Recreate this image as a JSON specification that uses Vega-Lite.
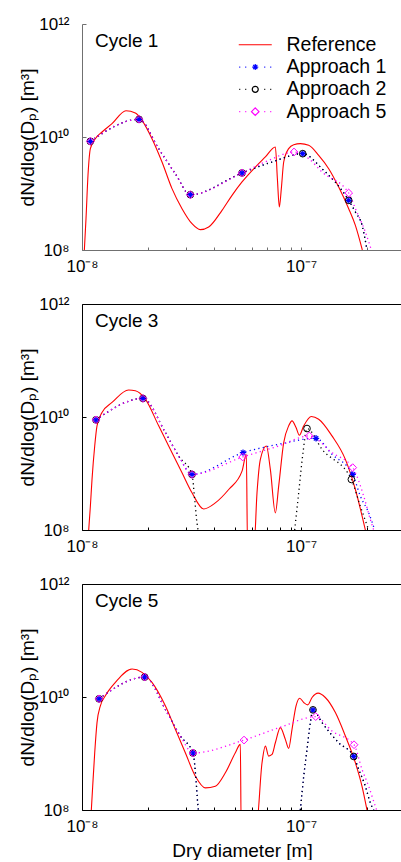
{
"$schema": "https://vega.github.io/schema/vega-lite/v6.json",
"background": "white",
"padding": {"left": 18, "top": 15, "right": 0, "bottom": 0},
"bounds": "flush",
"spacing": 54,
"config": {
  "font": "Liberation Sans",
  "view": {"stroke": null},
  "axis": {"labelFont": "Liberation Sans", "labelFontSize": 17, "labelColor": "black", "titleFont": "Liberation Sans", "titleFontSize": 19, "titleFontWeight": "normal", "titleColor": "black", "grid": false, "domainWidth": 1, "tickWidth": 1, "labelFlush": false, "labelOverlap": false},
  "legend": {"orient": "none", "legendX": 163.5, "legendY": 11, "labelFont": "Liberation Sans", "labelFontSize": 19.5, "labelColor": "black", "symbolSize": 100, "labelOffset": 21.5, "rowPadding": 1.3, "padding": 0, "symbolStrokeWidth": 1.2, "symbolOpacity": 1, "labelLimit": 300},
  "title": {"anchor": "start", "frame": "group", "offset": -36, "dx": 13, "fontSize": 19, "fontWeight": "normal", "font": "Liberation Sans", "color": "black", "baseline": "middle"}
},
"resolve": {"scale": {"color": "shared", "shape": "shared"}},
"datasets": {"d": [
{"c":1,"s":"Reference","g":"a","D":1.025e-8,"N":1e8,"m":0},
{"c":1,"s":"Reference","g":"a","D":1.043e-8,"N":3.59e8,"m":0},
{"c":1,"s":"Reference","g":"a","D":1.065e-8,"N":2.10e9,"m":0},
{"c":1,"s":"Reference","g":"a","D":1.092e-8,"N":6.22e9,"m":0},
{"c":1,"s":"Reference","g":"a","D":1.150e-8,"N":9.34e9,"m":0},
{"c":1,"s":"Reference","g":"a","D":1.234e-8,"N":1.226e10,"m":0},
{"c":1,"s":"Reference","g":"a","D":1.371e-8,"N":1.72e10,"m":0},
{"c":1,"s":"Reference","g":"a","D":1.588e-8,"N":2.92e10,"m":0},
{"c":1,"s":"Reference","g":"a","D":1.752e-8,"N":2.66e10,"m":0},
{"c":1,"s":"Reference","g":"a","D":1.879e-8,"N":1.97e10,"m":0},
{"c":1,"s":"Reference","g":"a","D":2.087e-8,"N":9.34e9,"m":0},
{"c":1,"s":"Reference","g":"a","D":2.319e-8,"N":3.61e9,"m":0},
{"c":1,"s":"Reference","g":"a","D":2.576e-8,"N":1.22e9,"m":0},
{"c":1,"s":"Reference","g":"a","D":2.862e-8,"N":5.39e8,"m":0},
{"c":1,"s":"Reference","g":"a","D":3.179e-8,"N":2.92e8,"m":0},
{"c":1,"s":"Reference","g":"a","D":3.47e-8,"N":2.29e8,"m":0},
{"c":1,"s":"Reference","g":"a","D":3.788e-8,"N":2.55e8,"m":0},
{"c":1,"s":"Reference","g":"a","D":4.358e-8,"N":5.04e8,"m":0},
{"c":1,"s":"Reference","g":"a","D":4.842e-8,"N":9.28e8,"m":0},
{"c":1,"s":"Reference","g":"a","D":5.378e-8,"N":1.60e9,"m":0},
{"c":1,"s":"Reference","g":"a","D":6.186e-8,"N":2.94e9,"m":0},
{"c":1,"s":"Reference","g":"a","D":6.874e-8,"N":4.43e9,"m":0},
{"c":1,"s":"Reference","g":"a","D":7.635e-8,"N":6.65e9,"m":0},
{"c":1,"s":"Reference","g":"a","D":7.80e-8,"N":1.83e9,"m":0},
{"c":1,"s":"Reference","g":"a","D":7.96e-8,"N":5.77e8,"m":0},
{"c":1,"s":"Reference","g":"a","D":8.13e-8,"N":1.22e9,"m":0},
{"c":1,"s":"Reference","g":"a","D":8.335e-8,"N":3.61e9,"m":0},
{"c":1,"s":"Reference","g":"a","D":8.783e-8,"N":6.22e9,"m":0},
{"c":1,"s":"Reference","g":"a","D":9.26e-8,"N":7.31e9,"m":0},
{"c":1,"s":"Reference","g":"a","D":9.93e-8,"N":7.62e9,"m":0},
{"c":1,"s":"Reference","g":"a","D":1.084e-7,"N":7.12e9,"m":0},
{"c":1,"s":"Reference","g":"a","D":1.204e-7,"N":4.74e9,"m":0},
{"c":1,"s":"Reference","g":"a","D":1.338e-7,"N":2.75e9,"m":0},
{"c":1,"s":"Reference","g":"a","D":1.486e-7,"N":1.30e9,"m":0},
{"c":1,"s":"Reference","g":"a","D":1.651e-7,"N":5.39e8,"m":0},
{"c":1,"s":"Reference","g":"a","D":1.771e-7,"N":2.73e8,"m":0},
{"c":1,"s":"Reference","g":"a","D":1.905e-7,"N":1e8,"m":0},

{"c":1,"s":"Approach 1","g":"a","D":1.092e-8,"N":8.38e9,"m":1},
{"c":1,"s":"Approach 1","g":"a","D":1.821e-8,"N":2.055e10,"m":1},
{"c":1,"s":"Approach 1","g":"a","D":2.239e-8,"N":6.22e9,"m":0},
{"c":1,"s":"Approach 1","g":"a","D":2.667e-8,"N":2.24e9,"m":0},
{"c":1,"s":"Approach 1","g":"a","D":3.124e-8,"N":9.53e8,"m":1},
{"c":1,"s":"Approach 1","g":"a","D":5.378e-8,"N":2.31e9,"m":1},
{"c":1,"s":"Approach 1","g":"a","D":7.372e-8,"N":3.61e9,"m":0},
{"c":1,"s":"Approach 1","g":"a","D":1.018e-7,"N":5.07e9,"m":1},
{"c":1,"s":"Approach 1","g":"a","D":1.247e-7,"N":2.75e9,"m":0},
{"c":1,"s":"Approach 1","g":"a","D":1.651e-7,"N":7.57e8,"m":1},
{"c":1,"s":"Approach 1","g":"a","D":1.771e-7,"N":4.71e8,"m":0},
{"c":1,"s":"Approach 1","g":"a","D":1.90e-7,"N":2.73e8,"m":0},
{"c":1,"s":"Approach 1","g":"a","D":2.001e-7,"N":1e8,"m":0},

{"c":1,"s":"Approach 2","g":"a","D":1.092e-8,"N":8.38e9,"m":1},
{"c":1,"s":"Approach 2","g":"a","D":1.821e-8,"N":2.055e10,"m":1},
{"c":1,"s":"Approach 2","g":"a","D":2.239e-8,"N":6.22e9,"m":0},
{"c":1,"s":"Approach 2","g":"a","D":2.667e-8,"N":2.24e9,"m":0},
{"c":1,"s":"Approach 2","g":"a","D":3.124e-8,"N":9.53e8,"m":1},
{"c":1,"s":"Approach 2","g":"a","D":5.378e-8,"N":2.31e9,"m":1},
{"c":1,"s":"Approach 2","g":"a","D":7.372e-8,"N":3.61e9,"m":0},
{"c":1,"s":"Approach 2","g":"a","D":1.018e-7,"N":5.07e9,"m":1},
{"c":1,"s":"Approach 2","g":"a","D":1.247e-7,"N":2.75e9,"m":0},
{"c":1,"s":"Approach 2","g":"a","D":1.651e-7,"N":7.57e8,"m":1},
{"c":1,"s":"Approach 2","g":"a","D":1.771e-7,"N":4.71e8,"m":0},
{"c":1,"s":"Approach 2","g":"a","D":1.90e-7,"N":2.73e8,"m":0},
{"c":1,"s":"Approach 2","g":"a","D":2.001e-7,"N":1e8,"m":0},

{"c":1,"s":"Approach 5","g":"a","D":1.092e-8,"N":8.38e9,"m":1},
{"c":1,"s":"Approach 5","g":"a","D":1.821e-8,"N":2.055e10,"m":1},
{"c":1,"s":"Approach 5","g":"a","D":2.239e-8,"N":6.22e9,"m":0},
{"c":1,"s":"Approach 5","g":"a","D":2.667e-8,"N":2.24e9,"m":0},
{"c":1,"s":"Approach 5","g":"a","D":3.124e-8,"N":9.53e8,"m":1},
{"c":1,"s":"Approach 5","g":"a","D":5.378e-8,"N":2.31e9,"m":1},
{"c":1,"s":"Approach 5","g":"a","D":7.12e-8,"N":3.86e9,"m":0},
{"c":1,"s":"Approach 5","g":"a","D":9.29e-8,"N":5.43e9,"m":1},
{"c":1,"s":"Approach 5","g":"a","D":1.084e-7,"N":4.14e9,"m":0},
{"c":1,"s":"Approach 5","g":"a","D":1.247e-7,"N":2.40e9,"m":0},
{"c":1,"s":"Approach 5","g":"a","D":1.651e-7,"N":1.02e9,"m":1},
{"c":1,"s":"Approach 5","g":"a","D":1.771e-7,"N":5.39e8,"m":0},
{"c":1,"s":"Approach 5","g":"a","D":1.967e-7,"N":2.08e8,"m":0},
{"c":1,"s":"Approach 5","g":"a","D":2.095e-7,"N":1e8,"m":0},

{"c":3,"s":"Reference","g":"a","D":1.073e-8,"N":1e8,"m":0},
{"c":3,"s":"Reference","g":"a","D":1.092e-8,"N":2.63e8,"m":0},
{"c":3,"s":"Reference","g":"a","D":1.111e-8,"N":7.85e8,"m":0},
{"c":3,"s":"Reference","g":"a","D":1.143e-8,"N":3.07e9,"m":0},
{"c":3,"s":"Reference","g":"a","D":1.171e-8,"N":6.97e9,"m":0},
{"c":3,"s":"Reference","g":"a","D":1.234e-8,"N":1.20e10,"m":0},
{"c":3,"s":"Reference","g":"a","D":1.371e-8,"N":1.81e10,"m":0},
{"c":3,"s":"Reference","g":"a","D":1.633e-8,"N":3.00e10,"m":0},
{"c":3,"s":"Reference","g":"a","D":1.752e-8,"N":2.92e10,"m":0},
{"c":3,"s":"Reference","g":"a","D":1.946e-8,"N":2.07e10,"m":0},
{"c":3,"s":"Reference","g":"a","D":2.239e-8,"N":6.97e9,"m":0},
{"c":3,"s":"Reference","g":"a","D":2.487e-8,"N":3.07e9,"m":0},
{"c":3,"s":"Reference","g":"a","D":2.862e-8,"N":1.03e9,"m":0},
{"c":3,"s":"Reference","g":"a","D":3.179e-8,"N":4.55e8,"m":0},
{"c":3,"s":"Reference","g":"a","D":3.594e-8,"N":2.36e8,"m":0},
{"c":3,"s":"Reference","g":"a","D":4.062e-8,"N":3.02e8,"m":0},
{"c":3,"s":"Reference","g":"a","D":4.675e-8,"N":5.21e8,"m":0},
{"c":3,"s":"Reference","g":"a","D":5.378e-8,"N":1.10e9,"m":0},
{"c":3,"s":"Reference","g":"a","D":5.628e-8,"N":2.18e9,"m":0},
{"c":3,"s":"Reference","g":"a","D":5.70e-8,"N":5e7,"m":0},
{"c":3,"s":"Reference","g":"a","D":6.10e-8,"N":5e7,"m":0},
{"c":3,"s":"Reference","g":"a","D":6.296e-8,"N":4.55e8,"m":0},
{"c":3,"s":"Reference","g":"a","D":6.521e-8,"N":1.78e9,"m":0},
{"c":3,"s":"Reference","g":"a","D":6.947e-8,"N":3.07e9,"m":0},
{"c":3,"s":"Reference","g":"a","D":7.244e-8,"N":1.18e9,"m":0},
{"c":3,"s":"Reference","g":"a","D":7.635e-8,"N":2.01e8,"m":0},
{"c":3,"s":"Reference","g":"a","D":7.907e-8,"N":5.97e8,"m":0},
{"c":3,"s":"Reference","g":"a","D":8.335e-8,"N":3.52e9,"m":0},
{"c":3,"s":"Reference","g":"a","D":8.783e-8,"N":6.97e9,"m":0},
{"c":3,"s":"Reference","g":"a","D":9.097e-8,"N":8.55e9,"m":0},
{"c":3,"s":"Reference","g":"a","D":9.49e-8,"N":6.51e9,"m":0},
{"c":3,"s":"Reference","g":"a","D":9.826e-8,"N":4.75e9,"m":0},
{"c":3,"s":"Reference","g":"a","D":1.029e-7,"N":6.97e9,"m":0},
{"c":3,"s":"Reference","g":"a","D":1.115e-7,"N":1.02e10,"m":0},
{"c":3,"s":"Reference","g":"a","D":1.204e-7,"N":9.15e9,"m":0},
{"c":3,"s":"Reference","g":"a","D":1.385e-7,"N":4.63e9,"m":0},
{"c":3,"s":"Reference","g":"a","D":1.594e-7,"N":1.78e9,"m":0},
{"c":3,"s":"Reference","g":"a","D":1.771e-7,"N":5.21e8,"m":0},
{"c":3,"s":"Reference","g":"a","D":1.967e-7,"N":1e8,"m":0},

{"c":3,"s":"Approach 1","g":"a","D":1.158e-8,"N":8.90e9,"m":1},
{"c":3,"s":"Approach 1","g":"a","D":1.898e-8,"N":2.13e10,"m":1},
{"c":3,"s":"Approach 1","g":"a","D":2.402e-8,"N":5.30e9,"m":0},
{"c":3,"s":"Approach 1","g":"a","D":2.763e-8,"N":2.04e9,"m":0},
{"c":3,"s":"Approach 1","g":"a","D":3.179e-8,"N":9.63e8,"m":1},
{"c":3,"s":"Approach 1","g":"a","D":5.434e-8,"N":2.34e9,"m":1},
{"c":3,"s":"Approach 1","g":"a","D":7.907e-8,"N":3.29e9,"m":0},
{"c":3,"s":"Approach 1","g":"a","D":1.171e-7,"N":4.20e9,"m":1},
{"c":3,"s":"Approach 1","g":"a","D":1.385e-7,"N":2.18e9,"m":0},
{"c":3,"s":"Approach 1","g":"a","D":1.722e-7,"N":9.63e8,"m":1},
{"c":3,"s":"Approach 1","g":"a","D":1.866e-7,"N":3.97e8,"m":0},
{"c":3,"s":"Approach 1","g":"a","D":2.037e-7,"N":2.01e8,"m":0},
{"c":3,"s":"Approach 1","g":"a","D":2.17e-7,"N":1e8,"m":0},

{"c":3,"s":"Approach 2","g":"a","D":1.158e-8,"N":8.90e9,"m":1},
{"c":3,"s":"Approach 2","g":"a","D":1.898e-8,"N":2.13e10,"m":1},
{"c":3,"s":"Approach 2","g":"a","D":2.402e-8,"N":5.30e9,"m":0},
{"c":3,"s":"Approach 2","g":"a","D":2.763e-8,"N":2.04e9,"m":0},
{"c":3,"s":"Approach 2","g":"a","D":3.179e-8,"N":9.63e8,"m":1},
{"c":3,"s":"Approach 2","g":"a","D":3.27e-8,"N":3.46e8,"m":0},
{"c":3,"s":"Approach 2","g":"a","D":3.35e-8,"N":1.33e8,"m":0},
{"c":3,"s":"Approach 2","g":"a","D":3.386e-8,"N":1e8,"m":0},
{"c":3,"s":"Approach 2","g":"b","D":9.357e-8,"N":1e8,"m":0},
{"c":3,"s":"Approach 2","g":"b","D":9.757e-8,"N":4.55e8,"m":0},
{"c":3,"s":"Approach 2","g":"b","D":1.021e-7,"N":2.34e9,"m":0},
{"c":3,"s":"Approach 2","g":"b","D":1.065e-7,"N":6.25e9,"m":1},
{"c":3,"s":"Approach 2","g":"b","D":1.247e-7,"N":2.68e9,"m":0},
{"c":3,"s":"Approach 2","g":"b","D":1.698e-7,"N":7.85e8,"m":1},
{"c":3,"s":"Approach 2","g":"b","D":1.866e-7,"N":2.63e8,"m":0},
{"c":3,"s":"Approach 2","g":"b","D":2.037e-7,"N":1e8,"m":0},

{"c":3,"s":"Approach 5","g":"a","D":1.158e-8,"N":8.90e9,"m":1},
{"c":3,"s":"Approach 5","g":"a","D":1.898e-8,"N":2.13e10,"m":1},
{"c":3,"s":"Approach 5","g":"a","D":2.402e-8,"N":5.30e9,"m":0},
{"c":3,"s":"Approach 5","g":"a","D":2.763e-8,"N":2.04e9,"m":0},
{"c":3,"s":"Approach 5","g":"a","D":3.179e-8,"N":9.63e8,"m":1},
{"c":3,"s":"Approach 5","g":"a","D":5.415e-8,"N":1.96e9,"m":1},
{"c":3,"s":"Approach 5","g":"a","D":7.907e-8,"N":3.07e9,"m":0},
{"c":3,"s":"Approach 5","g":"a","D":1.091e-7,"N":4.63e9,"m":1},
{"c":3,"s":"Approach 5","g":"a","D":1.385e-7,"N":2.34e9,"m":0},
{"c":3,"s":"Approach 5","g":"a","D":1.722e-7,"N":1.27e9,"m":1},
{"c":3,"s":"Approach 5","g":"a","D":1.933e-7,"N":3.97e8,"m":0},
{"c":3,"s":"Approach 5","g":"a","D":2.073e-7,"N":1.53e8,"m":0},
{"c":3,"s":"Approach 5","g":"a","D":2.147e-7,"N":1e8,"m":0},

{"c":5,"s":"Reference","g":"a","D":1.103e-8,"N":1e8,"m":0},
{"c":5,"s":"Reference","g":"a","D":1.119e-8,"N":2.63e8,"m":0},
{"c":5,"s":"Reference","g":"a","D":1.143e-8,"N":1.03e9,"m":0},
{"c":5,"s":"Reference","g":"a","D":1.171e-8,"N":3.52e9,"m":0},
{"c":5,"s":"Reference","g":"a","D":1.213e-8,"N":6.97e9,"m":0},
{"c":5,"s":"Reference","g":"a","D":1.278e-8,"N":1.05e10,"m":0},
{"c":5,"s":"Reference","g":"a","D":1.42e-8,"N":1.81e10,"m":0},
{"c":5,"s":"Reference","g":"a","D":1.692e-8,"N":3.13e10,"m":0},
{"c":5,"s":"Reference","g":"a","D":1.879e-8,"N":2.73e10,"m":0},
{"c":5,"s":"Reference","g":"a","D":2.087e-8,"N":1.81e10,"m":0},
{"c":5,"s":"Reference","g":"a","D":2.402e-8,"N":6.97e9,"m":0},
{"c":5,"s":"Reference","g":"a","D":2.668e-8,"N":2.68e9,"m":0},
{"c":5,"s":"Reference","g":"a","D":2.963e-8,"N":1.03e9,"m":0},
{"c":5,"s":"Reference","g":"a","D":3.292e-8,"N":3.97e8,"m":0},
{"c":5,"s":"Reference","g":"a","D":3.657e-8,"N":2.46e8,"m":0},
{"c":5,"s":"Reference","g":"a","D":4.062e-8,"N":2.63e8,"m":0},
{"c":5,"s":"Reference","g":"a","D":4.513e-8,"N":4.55e8,"m":0},
{"c":5,"s":"Reference","g":"a","D":5.013e-8,"N":1.03e9,"m":0},
{"c":5,"s":"Reference","g":"a","D":5.284e-8,"N":1.45e9,"m":0},
{"c":5,"s":"Reference","g":"a","D":5.33e-8,"N":5e7,"m":0},
{"c":5,"s":"Reference","g":"a","D":6.25e-8,"N":5e7,"m":0},
{"c":5,"s":"Reference","g":"a","D":6.637e-8,"N":6.85e8,"m":0},
{"c":5,"s":"Reference","g":"a","D":6.874e-8,"N":1.35e9,"m":0},
{"c":5,"s":"Reference","g":"a","D":7.118e-8,"N":9.00e8,"m":0},
{"c":5,"s":"Reference","g":"a","D":7.372e-8,"N":9.63e8,"m":0},
{"c":5,"s":"Reference","g":"a","D":7.635e-8,"N":1.55e9,"m":0},
{"c":5,"s":"Reference","g":"a","D":8.047e-8,"N":2.87e9,"m":0},
{"c":5,"s":"Reference","g":"a","D":8.481e-8,"N":1.78e9,"m":0},
{"c":5,"s":"Reference","g":"a","D":8.783e-8,"N":1.23e9,"m":0},
{"c":5,"s":"Reference","g":"a","D":9.097e-8,"N":2.68e9,"m":0},
{"c":5,"s":"Reference","g":"a","D":9.49e-8,"N":6.97e9,"m":0},
{"c":5,"s":"Reference","g":"a","D":9.86e-8,"N":9.53e9,"m":0},
{"c":5,"s":"Reference","g":"a","D":1.029e-7,"N":7.98e9,"m":0},
{"c":5,"s":"Reference","g":"a","D":1.073e-7,"N":7.26e9,"m":0},
{"c":5,"s":"Reference","g":"a","D":1.123e-7,"N":9.80e9,"m":0},
{"c":5,"s":"Reference","g":"a","D":1.196e-7,"N":1.17e10,"m":0},
{"c":5,"s":"Reference","g":"a","D":1.291e-7,"N":9.80e9,"m":0},
{"c":5,"s":"Reference","g":"a","D":1.435e-7,"N":5.30e9,"m":0},
{"c":5,"s":"Reference","g":"a","D":1.594e-7,"N":2.04e9,"m":0},
{"c":5,"s":"Reference","g":"a","D":1.771e-7,"N":6.85e8,"m":0},
{"c":5,"s":"Reference","g":"a","D":1.899e-7,"N":2.63e8,"m":0},
{"c":5,"s":"Reference","g":"a","D":2.001e-7,"N":1e8,"m":0},

{"c":5,"s":"Approach 1","g":"a","D":1.196e-8,"N":9.28e9,"m":1},
{"c":5,"s":"Approach 1","g":"a","D":1.932e-8,"N":2.25e10,"m":1},
{"c":5,"s":"Approach 1","g":"a","D":2.445e-8,"N":5.30e9,"m":0},
{"c":5,"s":"Approach 1","g":"a","D":2.812e-8,"N":2.04e9,"m":0},
{"c":5,"s":"Approach 1","g":"a","D":3.212e-8,"N":1.02e9,"m":1},
{"c":5,"s":"Approach 1","g":"a","D":3.315e-8,"N":3.46e8,"m":0},
{"c":5,"s":"Approach 1","g":"a","D":3.374e-8,"N":1.33e8,"m":0},
{"c":5,"s":"Approach 1","g":"a","D":3.398e-8,"N":1e8,"m":0},
{"c":5,"s":"Approach 1","g":"b","D":9.93e-8,"N":1e8,"m":0},
{"c":5,"s":"Approach 1","g":"b","D":1.029e-7,"N":3.97e8,"m":0},
{"c":5,"s":"Approach 1","g":"b","D":1.065e-7,"N":1.18e9,"m":0},
{"c":5,"s":"Approach 1","g":"b","D":1.103e-7,"N":3.52e9,"m":0},
{"c":5,"s":"Approach 1","g":"b","D":1.134e-7,"N":5.92e9,"m":1},
{"c":5,"s":"Approach 1","g":"b","D":1.247e-7,"N":3.52e9,"m":0},
{"c":5,"s":"Approach 1","g":"b","D":1.486e-7,"N":1.55e9,"m":0},
{"c":5,"s":"Approach 1","g":"b","D":1.74e-7,"N":8.87e8,"m":1},
{"c":5,"s":"Approach 1","g":"b","D":1.834e-7,"N":5.21e8,"m":0},
{"c":5,"s":"Approach 1","g":"b","D":1.967e-7,"N":2.63e8,"m":0},
{"c":5,"s":"Approach 1","g":"b","D":2.073e-7,"N":1.33e8,"m":0},
{"c":5,"s":"Approach 1","g":"b","D":2.147e-7,"N":1e8,"m":0},

{"c":5,"s":"Approach 2","g":"a","D":1.196e-8,"N":9.28e9,"m":1},
{"c":5,"s":"Approach 2","g":"a","D":1.932e-8,"N":2.25e10,"m":1},
{"c":5,"s":"Approach 2","g":"a","D":2.445e-8,"N":5.30e9,"m":0},
{"c":5,"s":"Approach 2","g":"a","D":2.812e-8,"N":2.04e9,"m":0},
{"c":5,"s":"Approach 2","g":"a","D":3.212e-8,"N":1.02e9,"m":1},
{"c":5,"s":"Approach 2","g":"a","D":3.315e-8,"N":3.46e8,"m":0},
{"c":5,"s":"Approach 2","g":"a","D":3.374e-8,"N":1.33e8,"m":0},
{"c":5,"s":"Approach 2","g":"a","D":3.398e-8,"N":1e8,"m":0},
{"c":5,"s":"Approach 2","g":"b","D":9.93e-8,"N":1e8,"m":0},
{"c":5,"s":"Approach 2","g":"b","D":1.029e-7,"N":3.97e8,"m":0},
{"c":5,"s":"Approach 2","g":"b","D":1.065e-7,"N":1.18e9,"m":0},
{"c":5,"s":"Approach 2","g":"b","D":1.103e-7,"N":3.52e9,"m":0},
{"c":5,"s":"Approach 2","g":"b","D":1.134e-7,"N":5.92e9,"m":1},
{"c":5,"s":"Approach 2","g":"b","D":1.247e-7,"N":3.52e9,"m":0},
{"c":5,"s":"Approach 2","g":"b","D":1.486e-7,"N":1.55e9,"m":0},
{"c":5,"s":"Approach 2","g":"b","D":1.74e-7,"N":8.87e8,"m":1},
{"c":5,"s":"Approach 2","g":"b","D":1.834e-7,"N":5.21e8,"m":0},
{"c":5,"s":"Approach 2","g":"b","D":1.967e-7,"N":2.63e8,"m":0},
{"c":5,"s":"Approach 2","g":"b","D":2.073e-7,"N":1.33e8,"m":0},
{"c":5,"s":"Approach 2","g":"b","D":2.147e-7,"N":1e8,"m":0},

{"c":5,"s":"Approach 5","g":"a","D":1.196e-8,"N":9.28e9,"m":1},
{"c":5,"s":"Approach 5","g":"a","D":1.932e-8,"N":2.25e10,"m":1},
{"c":5,"s":"Approach 5","g":"a","D":2.445e-8,"N":5.30e9,"m":0},
{"c":5,"s":"Approach 5","g":"a","D":2.812e-8,"N":2.04e9,"m":0},
{"c":5,"s":"Approach 5","g":"a","D":3.212e-8,"N":1.02e9,"m":1},
{"c":5,"s":"Approach 5","g":"a","D":5.492e-8,"N":1.73e9,"m":1},
{"c":5,"s":"Approach 5","g":"a","D":8.189e-8,"N":2.99e9,"m":0},
{"c":5,"s":"Approach 5","g":"a","D":1.167e-7,"N":4.50e9,"m":1},
{"c":5,"s":"Approach 5","g":"a","D":1.385e-7,"N":2.50e9,"m":0},
{"c":5,"s":"Approach 5","g":"a","D":1.746e-7,"N":1.43e9,"m":1},
{"c":5,"s":"Approach 5","g":"a","D":1.899e-7,"N":5.21e8,"m":0},
{"c":5,"s":"Approach 5","g":"a","D":2.037e-7,"N":2.63e8,"m":0},
{"c":5,"s":"Approach 5","g":"a","D":2.185e-7,"N":1.16e8,"m":0},
{"c":5,"s":"Approach 5","g":"a","D":2.216e-7,"N":1e8,"m":0}
]},
"vconcat": [
{
  "title": "Cycle 1",
  "width": 320, "height": 226,
  "data": {"name": "d"},
  "encoding": {"y": {"field": "N", "type": "quantitative", "scale": {"type": "log", "domain": [1e8, 1e12], "nice": false}, "axis": {"values": [1e8, 1e10, 1e12], "labelExpr": "datum.value == 1e8 ? '10⁸' : datum.value == 1e10 ? '10¹⁰' : '10¹²'", "title": "dN/dlog(Dₚ) [m³]", "tickSize": -4, "labelPadding": 17, "titlePadding": 1, "minExtent": 44, "maxExtent": 44, "domainColor": "#707070", "tickColor": "#707070"}}},
  "layer": [
    {"transform": [{"filter": "datum.c === 1 && datum.s === 'Reference'"}],
     "mark": {"type": "line", "clip": true, "strokeWidth": 1.1, "interpolate": "monotone"},
     "encoding": {
       "x": {"field": "D", "type": "quantitative", "scale": {"type": "log", "domain": [1e-8, 2.891e-7], "nice": false}, "axis": {"values": [1e-8, 2e-8, 3e-8, 4e-8, 5e-8, 6e-8, 7e-8, 8e-8, 9e-8, 1e-7, 2e-7], "labelExpr": "datum.value == 1e-8 ? '10⁻⁸' : datum.value == 1e-7 ? '10⁻⁷' : ''", "title": null, "tickSize": -3, "labelPadding": 11, "domainColor": "#707070", "tickColor": "#707070"}},
       "color": {"field": "s", "type": "nominal", "scale": {"domain": ["Reference", "Approach 1", "Approach 2", "Approach 5"], "range": ["#ff0000", "#0000ff", "#000000", "#ff00ff"]}, "legend": {"title": null}}
     }},
    {"transform": [{"filter": "datum.c === 1 && datum.s !== 'Reference'"}],
     "mark": {"type": "line", "clip": true, "strokeWidth": 1.3, "strokeDash": [1.2, 3.3], "interpolate": "monotone"},
     "encoding": {
       "x": {"field": "D", "type": "quantitative", "scale": {"type": "log", "domain": [1e-8, 2.891e-7], "nice": false}},
       "color": {"field": "s", "type": "nominal", "scale": {"domain": ["Reference", "Approach 1", "Approach 2", "Approach 5"], "range": ["#ff0000", "#0000ff", "#000000", "#ff00ff"]}, "legend": {"title": null}},
       "detail": {"field": "g"}
     }},
    {"transform": [{"filter": "datum.c === 1 && datum.m === 1 && datum.s === 'Approach 1'"}],
     "mark": {"type": "point", "filled": false, "strokeWidth": 1.2, "size": 40, "opacity": 1, "color": "#0000ff", "shape": "M-1,0H1M0,-1V1M-0.7,-0.7L0.7,0.7M-0.7,0.7L0.7,-0.7"},
     "encoding": {"x": {"field": "D", "type": "quantitative", "scale": {"type": "log", "domain": [1e-8, 2.891e-7], "nice": false}}}},
    {"transform": [{"filter": "datum.c === 1 && datum.m === 1 && datum.s === 'Approach 2'"}],
     "mark": {"type": "point", "filled": false, "strokeWidth": 1, "size": 45, "opacity": 1, "color": "#000000", "shape": "circle"},
     "encoding": {"x": {"field": "D", "type": "quantitative", "scale": {"type": "log", "domain": [1e-8, 2.891e-7], "nice": false}}}},
    {"transform": [{"filter": "datum.c === 1 && datum.m === 1 && datum.s === 'Approach 5'"}],
     "mark": {"type": "point", "filled": false, "strokeWidth": 1, "size": 60, "opacity": 1, "color": "#ff00ff", "shape": "diamond"},
     "encoding": {"x": {"field": "D", "type": "quantitative", "scale": {"type": "log", "domain": [1e-8, 2.891e-7], "nice": false}}}},
    {"transform": [{"filter": "datum.c === 99"}],
     "mark": {"type": "point", "filled": false, "opacity": 1, "strokeWidth": 1.2},
     "encoding": {
       "x": {"field": "D", "type": "quantitative", "scale": {"type": "log", "domain": [1e-8, 2.891e-7], "nice": false}},
       "color": {"field": "s", "type": "nominal", "scale": {"domain": ["Reference", "Approach 1", "Approach 2", "Approach 5"], "range": ["#ff0000", "#0000ff", "#000000", "#ff00ff"]}, "legend": {"title": null}},
       "shape": {"field": "s", "type": "nominal", "scale": {"domain": ["Reference", "Approach 1", "Approach 2", "Approach 5"], "range": [
         "M-3.3,0H3.3",
         "M-3.2,0h0.2M-2,0h0.2M1.8,0h0.2M3,0h0.2M-0.6,0H0.6M0,-0.6V0.6M-0.42,-0.42L0.42,0.42M-0.42,0.42L0.42,-0.42",
         "M-3.2,0h0.2M-2,0h0.2M1.8,0h0.2M3,0h0.2M0.6,0A0.6,0.6,0,1,1,-0.6,0A0.6,0.6,0,1,1,0.6,0",
         "M-3.2,0h0.2M-2,0h0.2M1.8,0h0.2M3,0h0.2M0,-0.75L0.75,0L0,0.75L-0.75,0Z"]}, "legend": {"title": null}}
     }}
  ]
},
{
  "title": "Cycle 3",
  "width": 320, "height": 226,
  "data": {"name": "d"},
  "encoding": {"y": {"field": "N", "type": "quantitative", "scale": {"type": "log", "domain": [1e8, 1e12], "nice": false}, "axis": {"values": [1e8, 1e10, 1e12], "labelExpr": "datum.value == 1e8 ? '10⁸' : datum.value == 1e10 ? '10¹⁰' : '10¹²'", "title": "dN/dlog(Dₚ) [m³]", "tickSize": -4, "labelPadding": 17, "titlePadding": 1, "minExtent": 44, "maxExtent": 44, "domainColor": "#000000", "tickColor": "#000000", "grid": true, "gridColor": "#000000", "gridWidth": 1, "gridOpacity": {"condition": {"test": "datum.value == 1e12", "value": 1}, "value": 0}}}},
  "layer": [
    {"transform": [{"filter": "datum.c === 3 && datum.s === 'Reference'"}],
     "mark": {"type": "line", "clip": true, "strokeWidth": 1.1, "interpolate": "monotone"},
     "encoding": {
       "x": {"field": "D", "type": "quantitative", "scale": {"type": "log", "domain": [1e-8, 2.891e-7], "nice": false}, "axis": {"values": [1e-8, 2e-8, 3e-8, 4e-8, 5e-8, 6e-8, 7e-8, 8e-8, 9e-8, 1e-7, 2e-7], "labelExpr": "datum.value == 1e-8 ? '10⁻⁸' : datum.value == 1e-7 ? '10⁻⁷' : ''", "title": null, "tickSize": -3, "labelPadding": 11, "domainColor": "#000000", "tickColor": "#000000"}},
       "color": {"field": "s", "type": "nominal", "scale": {"domain": ["Reference", "Approach 1", "Approach 2", "Approach 5"], "range": ["#ff0000", "#0000ff", "#000000", "#ff00ff"]}, "legend": {"title": null}}
     }},
    {"transform": [{"filter": "datum.c === 3 && datum.s !== 'Reference'"}],
     "mark": {"type": "line", "clip": true, "strokeWidth": 1.3, "strokeDash": [1.2, 3.3], "interpolate": "monotone"},
     "encoding": {
       "x": {"field": "D", "type": "quantitative", "scale": {"type": "log", "domain": [1e-8, 2.891e-7], "nice": false}},
       "color": {"field": "s", "type": "nominal", "scale": {"domain": ["Reference", "Approach 1", "Approach 2", "Approach 5"], "range": ["#ff0000", "#0000ff", "#000000", "#ff00ff"]}, "legend": {"title": null}},
       "detail": {"field": "g"}
     }},
    {"transform": [{"filter": "datum.c === 3 && datum.m === 1 && datum.s === 'Approach 1'"}],
     "mark": {"type": "point", "filled": false, "strokeWidth": 1.2, "size": 40, "opacity": 1, "color": "#0000ff", "shape": "M-1,0H1M0,-1V1M-0.7,-0.7L0.7,0.7M-0.7,0.7L0.7,-0.7"},
     "encoding": {"x": {"field": "D", "type": "quantitative", "scale": {"type": "log", "domain": [1e-8, 2.891e-7], "nice": false}}}},
    {"transform": [{"filter": "datum.c === 3 && datum.m === 1 && datum.s === 'Approach 2'"}],
     "mark": {"type": "point", "filled": false, "strokeWidth": 1, "size": 45, "opacity": 1, "color": "#000000", "shape": "circle"},
     "encoding": {"x": {"field": "D", "type": "quantitative", "scale": {"type": "log", "domain": [1e-8, 2.891e-7], "nice": false}}}},
    {"transform": [{"filter": "datum.c === 3 && datum.m === 1 && datum.s === 'Approach 5'"}],
     "mark": {"type": "point", "filled": false, "strokeWidth": 1, "size": 60, "opacity": 1, "color": "#ff00ff", "shape": "diamond"},
     "encoding": {"x": {"field": "D", "type": "quantitative", "scale": {"type": "log", "domain": [1e-8, 2.891e-7], "nice": false}}}}
  ]
},
{
  "title": "Cycle 5",
  "width": 320, "height": 226,
  "data": {"name": "d"},
  "encoding": {"y": {"field": "N", "type": "quantitative", "scale": {"type": "log", "domain": [1e8, 1e12], "nice": false}, "axis": {"values": [1e8, 1e10, 1e12], "labelExpr": "datum.value == 1e8 ? '10⁸' : datum.value == 1e10 ? '10¹⁰' : '10¹²'", "title": "dN/dlog(Dₚ) [m³]", "tickSize": -4, "labelPadding": 17, "titlePadding": 1, "minExtent": 44, "maxExtent": 44, "domainColor": "#000000", "tickColor": "#000000", "grid": true, "gridColor": "#000000", "gridWidth": 1, "gridOpacity": {"condition": {"test": "datum.value == 1e12", "value": 1}, "value": 0}}}},
  "layer": [
    {"transform": [{"filter": "datum.c === 5 && datum.s === 'Reference'"}],
     "mark": {"type": "line", "clip": true, "strokeWidth": 1.1, "interpolate": "monotone"},
     "encoding": {
       "x": {"field": "D", "type": "quantitative", "scale": {"type": "log", "domain": [1e-8, 2.891e-7], "nice": false}, "axis": {"values": [1e-8, 2e-8, 3e-8, 4e-8, 5e-8, 6e-8, 7e-8, 8e-8, 9e-8, 1e-7, 2e-7], "labelExpr": "datum.value == 1e-8 ? '10⁻⁸' : datum.value == 1e-7 ? '10⁻⁷' : ''", "title": "Dry diameter [m]", "titlePadding": 7, "tickSize": -3, "labelPadding": 11, "domainColor": "#000000", "tickColor": "#000000"}},
       "color": {"field": "s", "type": "nominal", "scale": {"domain": ["Reference", "Approach 1", "Approach 2", "Approach 5"], "range": ["#ff0000", "#0000ff", "#000000", "#ff00ff"]}, "legend": {"title": null}}
     }},
    {"transform": [{"filter": "datum.c === 5 && datum.s !== 'Reference'"}],
     "mark": {"type": "line", "clip": true, "strokeWidth": 1.3, "strokeDash": [1.2, 3.3], "interpolate": "monotone"},
     "encoding": {
       "x": {"field": "D", "type": "quantitative", "scale": {"type": "log", "domain": [1e-8, 2.891e-7], "nice": false}},
       "color": {"field": "s", "type": "nominal", "scale": {"domain": ["Reference", "Approach 1", "Approach 2", "Approach 5"], "range": ["#ff0000", "#0000ff", "#000000", "#ff00ff"]}, "legend": {"title": null}},
       "detail": {"field": "g"}
     }},
    {"transform": [{"filter": "datum.c === 5 && datum.m === 1 && datum.s === 'Approach 1'"}],
     "mark": {"type": "point", "filled": false, "strokeWidth": 1.2, "size": 40, "opacity": 1, "color": "#0000ff", "shape": "M-1,0H1M0,-1V1M-0.7,-0.7L0.7,0.7M-0.7,0.7L0.7,-0.7"},
     "encoding": {"x": {"field": "D", "type": "quantitative", "scale": {"type": "log", "domain": [1e-8, 2.891e-7], "nice": false}}}},
    {"transform": [{"filter": "datum.c === 5 && datum.m === 1 && datum.s === 'Approach 2'"}],
     "mark": {"type": "point", "filled": false, "strokeWidth": 1, "size": 45, "opacity": 1, "color": "#000000", "shape": "circle"},
     "encoding": {"x": {"field": "D", "type": "quantitative", "scale": {"type": "log", "domain": [1e-8, 2.891e-7], "nice": false}}}},
    {"transform": [{"filter": "datum.c === 5 && datum.m === 1 && datum.s === 'Approach 5'"}],
     "mark": {"type": "point", "filled": false, "strokeWidth": 1, "size": 60, "opacity": 1, "color": "#ff00ff", "shape": "diamond"},
     "encoding": {"x": {"field": "D", "type": "quantitative", "scale": {"type": "log", "domain": [1e-8, 2.891e-7], "nice": false}}}}
  ]
}
]
}
